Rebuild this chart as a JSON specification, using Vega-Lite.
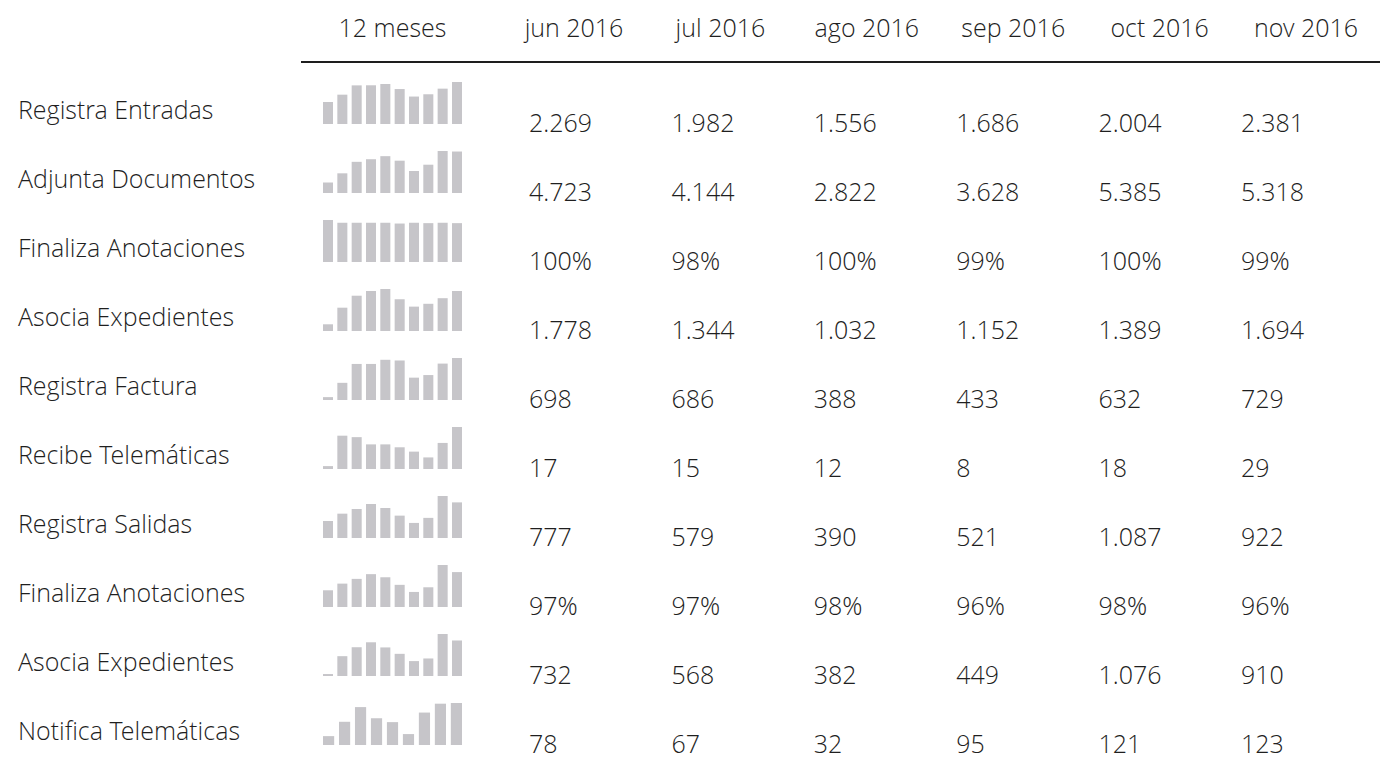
{
  "$schema": "https://vega.github.io/schema/vega-lite/v6.json",
  "padding": {"left": 18, "top": 0, "right": 0, "bottom": 0},
  "background": "white",
  "config": {
    "view": {"stroke": null},
    "text": {"font": "Open Sans Light, Open Sans", "fontWeight": 300, "fontSize": 25, "color": "#1f1f1f"}
  },
  "datasets": {
    "rows": [
      {"idx": 1, "name": "Registra Entradas"},
      {"idx": 2, "name": "Adjunta Documentos"},
      {"idx": 3, "name": "Finaliza Anotaciones"},
      {"idx": 4, "name": "Asocia Expedientes"},
      {"idx": 5, "name": "Registra Factura"},
      {"idx": 6, "name": "Recibe Telemáticas"},
      {"idx": 7, "name": "Registra Salidas"},
      {"idx": 8, "name": "Finaliza Anotaciones"},
      {"idx": 9, "name": "Asocia Expedientes"},
      {"idx": 10, "name": "Notifica Telemáticas"}
    ],
    "head": [
      {"h": "jun 2016"}, {"h": "jul 2016"}, {"h": "ago 2016"}, {"h": "sep 2016"}, {"h": "oct 2016"}, {"h": "nov 2016"}
    ],
    "vals": [
      {"idx": 1, "month": "jun 2016", "txt": "2.269"}, {"idx": 1, "month": "jul 2016", "txt": "1.982"}, {"idx": 1, "month": "ago 2016", "txt": "1.556"}, {"idx": 1, "month": "sep 2016", "txt": "1.686"}, {"idx": 1, "month": "oct 2016", "txt": "2.004"}, {"idx": 1, "month": "nov 2016", "txt": "2.381"},
      {"idx": 2, "month": "jun 2016", "txt": "4.723"}, {"idx": 2, "month": "jul 2016", "txt": "4.144"}, {"idx": 2, "month": "ago 2016", "txt": "2.822"}, {"idx": 2, "month": "sep 2016", "txt": "3.628"}, {"idx": 2, "month": "oct 2016", "txt": "5.385"}, {"idx": 2, "month": "nov 2016", "txt": "5.318"},
      {"idx": 3, "month": "jun 2016", "txt": "100%"}, {"idx": 3, "month": "jul 2016", "txt": "98%"}, {"idx": 3, "month": "ago 2016", "txt": "100%"}, {"idx": 3, "month": "sep 2016", "txt": "99%"}, {"idx": 3, "month": "oct 2016", "txt": "100%"}, {"idx": 3, "month": "nov 2016", "txt": "99%"},
      {"idx": 4, "month": "jun 2016", "txt": "1.778"}, {"idx": 4, "month": "jul 2016", "txt": "1.344"}, {"idx": 4, "month": "ago 2016", "txt": "1.032"}, {"idx": 4, "month": "sep 2016", "txt": "1.152"}, {"idx": 4, "month": "oct 2016", "txt": "1.389"}, {"idx": 4, "month": "nov 2016", "txt": "1.694"},
      {"idx": 5, "month": "jun 2016", "txt": "698"}, {"idx": 5, "month": "jul 2016", "txt": "686"}, {"idx": 5, "month": "ago 2016", "txt": "388"}, {"idx": 5, "month": "sep 2016", "txt": "433"}, {"idx": 5, "month": "oct 2016", "txt": "632"}, {"idx": 5, "month": "nov 2016", "txt": "729"},
      {"idx": 6, "month": "jun 2016", "txt": "17"}, {"idx": 6, "month": "jul 2016", "txt": "15"}, {"idx": 6, "month": "ago 2016", "txt": "12"}, {"idx": 6, "month": "sep 2016", "txt": "8"}, {"idx": 6, "month": "oct 2016", "txt": "18"}, {"idx": 6, "month": "nov 2016", "txt": "29"},
      {"idx": 7, "month": "jun 2016", "txt": "777"}, {"idx": 7, "month": "jul 2016", "txt": "579"}, {"idx": 7, "month": "ago 2016", "txt": "390"}, {"idx": 7, "month": "sep 2016", "txt": "521"}, {"idx": 7, "month": "oct 2016", "txt": "1.087"}, {"idx": 7, "month": "nov 2016", "txt": "922"},
      {"idx": 8, "month": "jun 2016", "txt": "97%"}, {"idx": 8, "month": "jul 2016", "txt": "97%"}, {"idx": 8, "month": "ago 2016", "txt": "98%"}, {"idx": 8, "month": "sep 2016", "txt": "96%"}, {"idx": 8, "month": "oct 2016", "txt": "98%"}, {"idx": 8, "month": "nov 2016", "txt": "96%"},
      {"idx": 9, "month": "jun 2016", "txt": "732"}, {"idx": 9, "month": "jul 2016", "txt": "568"}, {"idx": 9, "month": "ago 2016", "txt": "382"}, {"idx": 9, "month": "sep 2016", "txt": "449"}, {"idx": 9, "month": "oct 2016", "txt": "1.076"}, {"idx": 9, "month": "nov 2016", "txt": "910"},
      {"idx": 10, "month": "jun 2016", "txt": "78"}, {"idx": 10, "month": "jul 2016", "txt": "67"}, {"idx": 10, "month": "ago 2016", "txt": "32"}, {"idx": 10, "month": "sep 2016", "txt": "95"}, {"idx": 10, "month": "oct 2016", "txt": "121"}, {"idx": 10, "month": "nov 2016", "txt": "123"}
    ],
    "spark": [
      {"idx": 1, "m": "2016-02", "v": 1247}, {"idx": 1, "m": "2016-03", "v": 1663}, {"idx": 1, "m": "2016-04", "v": 2190}, {"idx": 1, "m": "2016-05", "v": 2195}, {"idx": 1, "m": "2016-06", "v": 2269}, {"idx": 1, "m": "2016-07", "v": 1982}, {"idx": 1, "m": "2016-08", "v": 1556}, {"idx": 1, "m": "2016-09", "v": 1686}, {"idx": 1, "m": "2016-10", "v": 2004}, {"idx": 1, "m": "2016-11", "v": 2381},
      {"idx": 2, "m": "2016-02", "v": 1346}, {"idx": 2, "m": "2016-03", "v": 2524}, {"idx": 2, "m": "2016-04", "v": 3997}, {"idx": 2, "m": "2016-05", "v": 4333}, {"idx": 2, "m": "2016-06", "v": 4723}, {"idx": 2, "m": "2016-07", "v": 4144}, {"idx": 2, "m": "2016-08", "v": 2822}, {"idx": 2, "m": "2016-09", "v": 3628}, {"idx": 2, "m": "2016-10", "v": 5385}, {"idx": 2, "m": "2016-11", "v": 5318},
      {"idx": 3, "m": "2016-02", "v": 107}, {"idx": 3, "m": "2016-03", "v": 100}, {"idx": 3, "m": "2016-04", "v": 100}, {"idx": 3, "m": "2016-05", "v": 100}, {"idx": 3, "m": "2016-06", "v": 100}, {"idx": 3, "m": "2016-07", "v": 98}, {"idx": 3, "m": "2016-08", "v": 100}, {"idx": 3, "m": "2016-09", "v": 99}, {"idx": 3, "m": "2016-10", "v": 100}, {"idx": 3, "m": "2016-11", "v": 99},
      {"idx": 4, "m": "2016-02", "v": 284}, {"idx": 4, "m": "2016-03", "v": 987}, {"idx": 4, "m": "2016-04", "v": 1494}, {"idx": 4, "m": "2016-05", "v": 1693}, {"idx": 4, "m": "2016-06", "v": 1778}, {"idx": 4, "m": "2016-07", "v": 1344}, {"idx": 4, "m": "2016-08", "v": 1032}, {"idx": 4, "m": "2016-09", "v": 1152}, {"idx": 4, "m": "2016-10", "v": 1389}, {"idx": 4, "m": "2016-11", "v": 1694},
      {"idx": 5, "m": "2016-02", "v": 50}, {"idx": 5, "m": "2016-03", "v": 298}, {"idx": 5, "m": "2016-04", "v": 626}, {"idx": 5, "m": "2016-05", "v": 626}, {"idx": 5, "m": "2016-06", "v": 698}, {"idx": 5, "m": "2016-07", "v": 686}, {"idx": 5, "m": "2016-08", "v": 388}, {"idx": 5, "m": "2016-09", "v": 433}, {"idx": 5, "m": "2016-10", "v": 632}, {"idx": 5, "m": "2016-11", "v": 729},
      {"idx": 6, "m": "2016-02", "v": 2}, {"idx": 6, "m": "2016-03", "v": 23}, {"idx": 6, "m": "2016-04", "v": 22}, {"idx": 6, "m": "2016-05", "v": 17}, {"idx": 6, "m": "2016-06", "v": 17}, {"idx": 6, "m": "2016-07", "v": 15}, {"idx": 6, "m": "2016-08", "v": 12}, {"idx": 6, "m": "2016-09", "v": 8}, {"idx": 6, "m": "2016-10", "v": 18}, {"idx": 6, "m": "2016-11", "v": 29},
      {"idx": 7, "m": "2016-02", "v": 440}, {"idx": 7, "m": "2016-03", "v": 630}, {"idx": 7, "m": "2016-04", "v": 751}, {"idx": 7, "m": "2016-05", "v": 880}, {"idx": 7, "m": "2016-06", "v": 777}, {"idx": 7, "m": "2016-07", "v": 579}, {"idx": 7, "m": "2016-08", "v": 390}, {"idx": 7, "m": "2016-09", "v": 521}, {"idx": 7, "m": "2016-10", "v": 1087}, {"idx": 7, "m": "2016-11", "v": 922},
      {"idx": 8, "m": "2016-02", "v": 424}, {"idx": 8, "m": "2016-03", "v": 593}, {"idx": 8, "m": "2016-04", "v": 713}, {"idx": 8, "m": "2016-05", "v": 833}, {"idx": 8, "m": "2016-06", "v": 754}, {"idx": 8, "m": "2016-07", "v": 562}, {"idx": 8, "m": "2016-08", "v": 382}, {"idx": 8, "m": "2016-09", "v": 500}, {"idx": 8, "m": "2016-10", "v": 1065}, {"idx": 8, "m": "2016-11", "v": 885},
      {"idx": 9, "m": "2016-02", "v": 50}, {"idx": 9, "m": "2016-03", "v": 508}, {"idx": 9, "m": "2016-04", "v": 737}, {"idx": 9, "m": "2016-05", "v": 864}, {"idx": 9, "m": "2016-06", "v": 732}, {"idx": 9, "m": "2016-07", "v": 568}, {"idx": 9, "m": "2016-08", "v": 382}, {"idx": 9, "m": "2016-09", "v": 449}, {"idx": 9, "m": "2016-10", "v": 1076}, {"idx": 9, "m": "2016-11", "v": 910},
      {"idx": 10, "m": "2016-03", "v": 26}, {"idx": 10, "m": "2016-04", "v": 68}, {"idx": 10, "m": "2016-05", "v": 111}, {"idx": 10, "m": "2016-06", "v": 78}, {"idx": 10, "m": "2016-07", "v": 67}, {"idx": 10, "m": "2016-08", "v": 32}, {"idx": 10, "m": "2016-09", "v": 95}, {"idx": 10, "m": "2016-10", "v": 121}, {"idx": 10, "m": "2016-11", "v": 123}
    ]
  },
  "vconcat": [
    {
      "spacing": 0,
      "hconcat": [
        {"width": 305, "height": 44, "data": {"values": []}, "mark": "text", "encoding": {}},
        {
          "width": 139, "height": 44,
          "data": {"values": [{"h": "12 meses"}]},
          "mark": {"type": "text", "baseline": "alphabetic", "align": "center", "dy": 15},
          "encoding": {"text": {"field": "h"}}
        },
        {
          "width": 918, "height": 44,
          "data": {"name": "head"},
          "mark": {"type": "text", "baseline": "alphabetic", "align": "center", "dy": 15},
          "encoding": {
            "x": {"field": "h", "type": "ordinal", "sort": ["jun 2016", "jul 2016", "ago 2016", "sep 2016", "oct 2016", "nov 2016"], "bandPosition": 0.63, "axis": null, "scale": {"type": "band", "paddingInner": 0, "paddingOuter": 0.135}},
            "text": {"field": "h"}
          }
        }
      ]
    },
    {
      "spacing": 0,
      "hconcat": [
        {"width": 282, "height": 4, "data": {"values": []}, "mark": "text", "encoding": {}},
        {
          "width": 1080, "height": 4,
          "data": {"values": [{"r": 1}]},
          "mark": {"type": "rule", "strokeWidth": 2, "color": "#1e1e1e"},
          "encoding": {"y": {"datum": 0.75, "type": "quantitative", "scale": {"domain": [0, 1]}, "axis": null}}
        }
      ]
    },
    {
      "spacing": 0,
      "hconcat": [
        {
          "width": 305, "height": 680,
          "data": {"name": "rows"},
          "mark": {"type": "text", "align": "left", "baseline": "alphabetic", "dy": 7.5},
          "encoding": {
            "y": {"field": "idx", "type": "ordinal", "axis": null, "scale": {"type": "point", "padding": 0.4275}},
            "x": {"datum": 0, "type": "quantitative", "scale": {"domain": [0, 1]}, "axis": null},
            "text": {"field": "name"}
          }
        },
        {
          "data": {"name": "spark"},
          "facet": {"row": {"field": "idx", "type": "ordinal", "header": null}},
          "spacing": {"row": 27},
          "spec": {
            "width": 139, "height": 42,
            "mark": {"type": "bar", "color": "#c6c5c9"},
            "encoding": {
              "x": {"field": "m", "type": "ordinal", "axis": null, "scale": {"paddingInner": 0.3, "paddingOuter": 0}},
              "y": {"field": "v", "type": "quantitative", "axis": null, "scale": {"nice": false, "zero": true}}
            }
          },
          "resolve": {"scale": {"x": "independent", "y": "independent"}}
        },
        {
          "width": 918, "height": 680,
          "data": {"name": "vals"},
          "mark": {"type": "text", "align": "left", "baseline": "alphabetic", "dy": 20.5},
          "encoding": {
            "y": {"field": "idx", "type": "ordinal", "axis": null, "scale": {"type": "point", "padding": 0.4275}},
            "x": {"field": "month", "type": "ordinal", "sort": ["jun 2016", "jul 2016", "ago 2016", "sep 2016", "oct 2016", "nov 2016"], "bandPosition": 0.24, "axis": null, "scale": {"type": "band", "paddingInner": 0, "paddingOuter": 0.2235}},
            "text": {"field": "txt"}
          }
        }
      ]
    }
  ],
  "spacing": 17
}
